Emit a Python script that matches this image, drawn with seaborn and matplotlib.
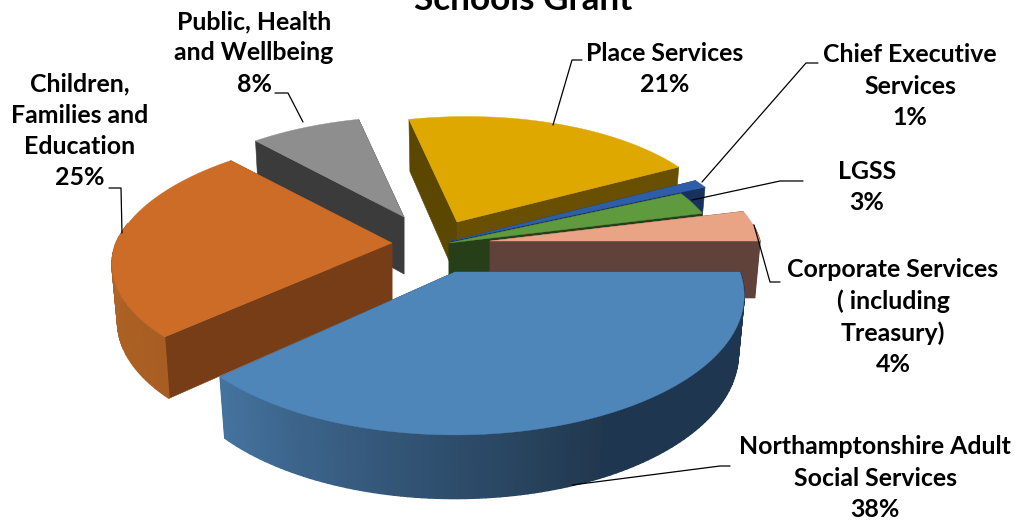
import numpy as np
import matplotlib
matplotlib.use("Agg")
import matplotlib.pyplot as plt
import seaborn as sns

# Budget shares, clockwise from the horizontal right-hand radius
services = ["Northamptonshire Adult\nSocial Services", "Children,\nFamilies and\nEducation",
            "Public, Health\nand Wellbeing", "Place Services", "Chief Executive\nServices",
            "LGSS", "Corporate Services\n( including\nTreasury)"]
shares = [38, 25, 8, 21, 1, 3, 4]

# Colours per slice: top, cut face at start angle, cut face at end angle, rim near, rim far
top_colors = ["#4e86ba", "#cc6c27", "#8e8e8e", "#dfa800", "#2f5ea8", "#5f9a3f", "#e9a385"]
start_face = ["#1f364f", "#773d17", "#3b3b3b", "#5c4700", "#17325f", "#263f18", "#60423a"]
end_face = ["#1f364f", "#773d17", "#3b3b3b", "#695000", "#17325f", "#263f18", "#60423a"]
rim_a = ["#1f3650", "#a85e22", "#3b3b3b", "#5c4700", "#17325f", "#263f18", "#60423a"]
rim_b = ["#45739f", "#b9692a", "#3b3b3b", "#5c4700", "#17325f", "#263f18", "#60423a"]

# Exploded slice layout
apex_x = [455, 392, 404, 457, 452, 449, 490]
apex_y = [272, 243, 217, 222, 241, 243, 241]
radius = [285, 276, 255, 268, 295, 270, 270]
front_tilt = [0.475, 0.44, 0.475, 0.475, 0.475, 0.475, 0.475]
draw_order = [2, 3, 4, 5, 6, 1, 0]
DEPTH, TILT_BACK, PERSP, FLOOR_X, SHEAR = 57, 0.46, 0.169, 0.98, 9.5

sns.set_theme(style="white")
plt.rcParams["font.family"] = ["Lato", "DejaVu Sans"]
fig = plt.figure(figsize=(10.21, 5.25), dpi=100, facecolor="white")
ax = fig.add_axes([0, 0, 1, 1])
ax.set_xlim(0, 1021)
ax.set_ylim(525, 0)
ax.axis("off")


def project(theta, r, tilt_front):
    """Return top and bottom screen offsets from a slice's apex."""
    sin = np.sin(theta)
    s = 1 / (1 - PERSP * sin)
    tilt = np.where(sin > 0, tilt_front, TILT_BACK)
    x = r * np.cos(theta) * s - SHEAR * np.minimum(sin, 0)
    y = tilt * r * sin * s
    drop = DEPTH * s ** 0.6
    return x, y, x * FLOOR_X, y + drop


edges = np.radians(np.cumsum([0] + shares) * 3.6)
for i in draw_order:
    a0, a1 = edges[i], edges[i + 1]
    thetas = np.linspace(a0, a1, max(int(shares[i] * 3), 8))
    tx, ty, bx, by = project(thetas, radius[i], front_tilt[i])
    ax_, ay = apex_x[i], apex_y[i]

    # Cut faces on both radii
    for j, col in ((0, start_face[i]), (-1, end_face[i])):
        ax.fill([ax_, ax_ + tx[j], ax_ + bx[j], ax_],
                [ay, ay + ty[j], ay + by[j], ay + DEPTH],
                color=col, lw=0.4, zorder=1)

    # Outer rim, shaded along its length; the far side of the pie stays hidden
    steps = len(thetas) - 1
    if i == 0:
        knee = int(0.47 * steps)
        ramp = [rim_a[i]] * knee + sns.blend_palette(["#21384f", rim_b[i]], steps - knee)
    else:
        ramp = sns.blend_palette([rim_a[i], rim_b[i]], steps)
    for k, col in enumerate(ramp):
        if np.sin(thetas[k]) < -0.15:
            continue
        ax.fill([ax_ + tx[k], ax_ + tx[k + 1], ax_ + bx[k + 1], ax_ + bx[k]],
                [ay + ty[k], ay + ty[k + 1], ay + by[k + 1], ay + by[k]],
                color=col, lw=1.0, zorder=1)

    # Top surface
    ax.fill(np.r_[ax_, ax_ + tx], np.r_[ay, ay + ty], color=top_colors[i], lw=0.3, zorder=1)

# Leader lines
leaders = [
    ([553, 572, 582], [125, 60, 60]),
    ([702, 806, 818], [182, 63, 63]),
    ([692, 780, 803], [200, 181, 181]),
    ([754, 770, 780], [225, 282, 282]),
    ([572, 720, 730], [485, 466, 466]),
    ([122, 121, 109], [233, 188, 188]),
    ([303, 288, 275], [122, 93, 93]),
]
for xs, ys in leaders:
    ax.plot(xs, ys, color="black", lw=0.9, zorder=3, solid_joinstyle="round")

# Category labels with their percentages
label_x = [875, 80, 254, 665, 910, 867, 893]
label_y = [477, 130, 52, 68, 85, 186, 316]
for i, name in enumerate(services):
    ax.text(label_x[i], label_y[i] + 1, f"{name}\n{shares[i]}%", ha="center", va="center",
            fontsize=17.9, fontweight="bold", color="black", linespacing=1.43, zorder=4)

ax.text(523, 0, "Schools Grant", ha="center", va="center", fontsize=25.3,
        fontweight="bold", color="black", zorder=4)

fig.savefig("out.png", dpi=100, facecolor="white")
